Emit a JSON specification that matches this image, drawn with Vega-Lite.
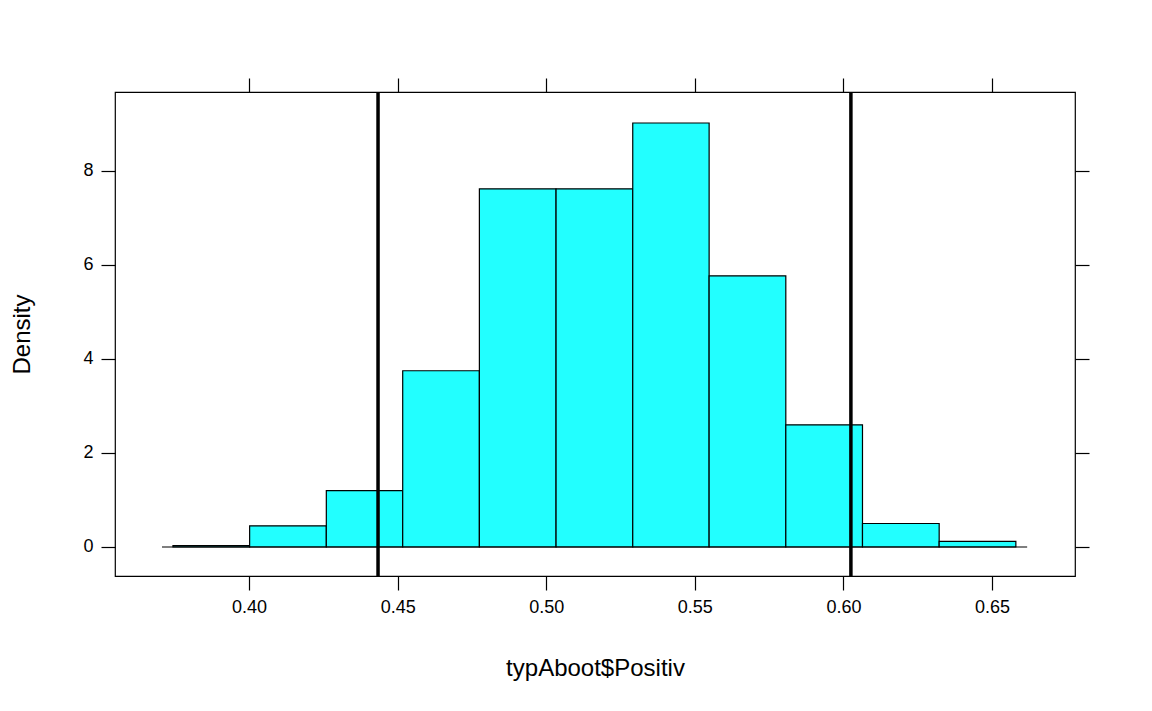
{
  "$schema": "https://vega.github.io/schema/vega-lite/v6.json",
  "width": 960,
  "height": 484,
  "autosize": "none",
  "padding": {"left": 115, "top": 92, "right": 77, "bottom": 135},
  "background": "white",
  "config": {
    "font": "Liberation Sans",
    "view": {"stroke": "black", "strokeWidth": 1.2},
    "axis": {"grid": false, "domain": false, "tickColor": "black", "tickSize": 14, "tickWidth": 1.2, "labelColor": "black", "labelFontSize": 18, "titleFontSize": 24, "titleFontWeight": "normal", "titleColor": "black", "labelPadding": 8}
  },
  "datasets": {
    "bins": [
      {"lo": 0.3744, "hi": 0.4002, "density": 0.03},
      {"lo": 0.4002, "hi": 0.4260, "density": 0.45},
      {"lo": 0.4260, "hi": 0.4517, "density": 1.2},
      {"lo": 0.4517, "hi": 0.4775, "density": 3.75},
      {"lo": 0.4775, "hi": 0.5033, "density": 7.62},
      {"lo": 0.5033, "hi": 0.5291, "density": 7.62},
      {"lo": 0.5291, "hi": 0.5548, "density": 9.02},
      {"lo": 0.5548, "hi": 0.5806, "density": 5.77},
      {"lo": 0.5806, "hi": 0.6064, "density": 2.6},
      {"lo": 0.6064, "hi": 0.6322, "density": 0.5},
      {"lo": 0.6322, "hi": 0.6580, "density": 0.12}
    ],
    "ci": [{"v": 0.4434}, {"v": 0.6025}],
    "base": [{"a": 0.3707, "b": 0.6618, "y": 0}]
  },
  "layer": [
    {
      "data": {"name": "bins"},
      "mark": {"type": "rect", "fill": "#22FFFF", "stroke": "black", "strokeWidth": 1.2},
      "encoding": {
        "x": {"field": "lo", "type": "quantitative", "scale": {"domain": [0.3549, 0.6779], "nice": false, "zero": false}, "title": "typAboot$Positiv", "axis": {"orient": "bottom", "values": [0.4, 0.45, 0.5, 0.55, 0.6, 0.65], "format": ".2f", "titlePadding": 40}},
        "x2": {"field": "hi"},
        "y": {"field": "density", "type": "quantitative", "scale": {"domain": [-0.617, 9.68], "nice": false, "zero": false}, "title": "Density", "axis": {"orient": "left", "values": [0, 2, 4, 6, 8], "labelAngle": 0, "titlePadding": 48}},
        "y2": {"datum": 0}
      }
    },
    {
      "data": {"name": "base"},
      "mark": {"type": "rule", "color": "black", "strokeWidth": 1.2},
      "encoding": {
        "x": {"field": "a", "type": "quantitative", "axis": {"orient": "top", "values": [0.4, 0.45, 0.5, 0.55, 0.6, 0.65], "labels": false, "title": null}},
        "x2": {"field": "b"},
        "y": {"field": "y", "type": "quantitative", "axis": {"orient": "right", "values": [0, 2, 4, 6, 8], "labels": false, "title": null}}
      }
    },
    {
      "data": {"name": "ci"},
      "mark": {"type": "rule", "color": "black", "strokeWidth": 3.5},
      "encoding": {
        "x": {"field": "v", "type": "quantitative", "axis": null}
      }
    }
  ],
  "resolve": {"axis": {"x": "independent", "y": "independent"}}
}
